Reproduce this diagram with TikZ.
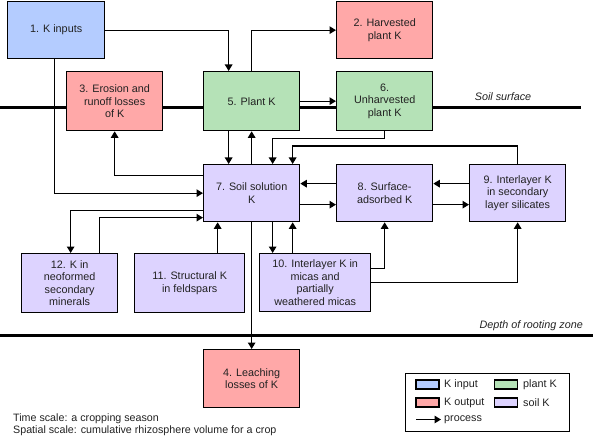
\documentclass[tikz,border=0pt]{standalone}
\usepackage{fontspec}
\setmainfont{Liberation Sans}
\usetikzlibrary{arrows.meta}
\definecolor{kblue}{RGB}{180,204,255}
\definecolor{kred}{RGB}{255,168,168}
\definecolor{kgreen}{RGB}{181,226,183}
\definecolor{kpurple}{RGB}{221,211,255}
\definecolor{ktext}{RGB}{34,34,34}
\begin{document}
\begin{tikzpicture}[x=1pt,y=-1pt,
  box/.style={draw=black, line width=1.3pt, align=center, inner sep=1pt,
    text=ktext, font=\fontsize{10.8}{12.6}\selectfont, anchor=north west},
  arr/.style={line width=1.2pt, -{Triangle[length=6.5pt,width=7.5pt]}},
  ground/.style={line width=3pt},
  lab/.style={font=\fontsize{10.8}{12.6}\selectfont\itshape, text=ktext, inner sep=0pt},
  sw/.style={draw=black, line width=1.2pt, minimum width=23pt, minimum height=9pt, inner sep=0pt},
  lt/.style={font=\fontsize{10.8}{12.6}\selectfont, text=ktext, inner sep=0pt, anchor=west},
  note/.style={font=\fontsize{10.7}{12}\selectfont, text=ktext, inner sep=0pt, anchor=base west}]
\useasboundingbox (0,0) rectangle (593,446);
\fill[white] (0,0) rectangle (593,446);

% ground lines
\draw[ground] (0,108) -- (581,108);
\draw[ground] (0,335) -- (593,335);
\node[lab] (soil) at (503,97) {Soil surface};
\node[lab, anchor=east] (depth) at (583,326) {Depth of rooting zone};

% boxes
\node[box, fill=kblue, minimum width=97pt, minimum height=57pt] (n1) at (7,1) {1. K inputs};
\node[box, fill=kred, minimum width=96pt, minimum height=57pt] (n2) at (336,1) {2. Harvested\\plant K};
\node[box, fill=kred, minimum width=96pt, minimum height=59pt] (n3) at (66,71) {3. Erosion and\\runoff losses\\of K};
\node[box, fill=kgreen, minimum width=96pt, minimum height=59pt] (n5) at (203,71) {5. Plant K};
\node[box, fill=kgreen, minimum width=96pt, minimum height=59pt] (n6) at (336,71) {6.\\Unharvested\\plant K};
\node[box, fill=kpurple, minimum width=96pt, minimum height=57pt] (n7) at (203,164) {7. Soil solution\\K};
\node[box, fill=kpurple, minimum width=96pt, minimum height=57pt] (n8) at (336,164) {8. Surface-\\adsorbed K};
\node[box, fill=kpurple, minimum width=96pt, minimum height=57pt] (n9) at (469,164) {9. Interlayer K\\in secondary\\layer silicates};
\node[box, fill=kpurple, minimum width=96pt, minimum height=59pt] (n12) at (21,253) {12. K in\\neoformed\\secondary\\minerals};
\node[box, fill=kpurple, minimum width=110pt, minimum height=59pt] (n11) at (134,253) {11. Structural K\\in feldspars};
\node[box, fill=kpurple, minimum width=111pt, minimum height=58pt] (n10) at (259,253) {10. Interlayer K in\\micas and\\partially\\weathered micas};
\node[box, fill=kred, minimum width=96pt, minimum height=58pt] (n4) at (203,349) {4. Leaching\\losses of K};

% connectors
\draw[arr] (n1.east) -| ([xshift=-23pt]n5.north);
\draw[arr] (n5.north) |- (n2.west);
\draw[arr] ([xshift=-1.5pt]n1.south) |- (n7.west);
\draw[arr] ([yshift=18pt]n7.west) -| (n3.south);
\draw[arr] ([xshift=-23pt]n5.south) -- ([xshift=-23pt]n7.north);
\draw[arr] (n7.north) -- (n5.south);
\draw[arr] (n5.east) -- (n6.west);
\draw[arr] (n6.south) -- ++(0,7) -| ([xshift=21pt]n7.north);
\draw[arr] (n9.north) -- ++(0,-18) -| ([xshift=41pt]n7.north);
\draw[arr] ([yshift=9.5pt]n8.west) -- ([yshift=9.5pt]n7.east);
\draw[arr] ([yshift=-11.5pt]n7.east) -- ([yshift=-11.5pt]n8.west);
\draw[arr] ([yshift=9.5pt]n9.west) -- ([yshift=9.5pt]n8.east);
\draw[arr] ([yshift=-11.5pt]n8.east) -- ([yshift=-11.5pt]n9.west);
\draw[arr] ([yshift=-17.5pt]n7.west) -| ([xshift=1pt]n12.north);
\draw[arr] ([xshift=30pt]n12.north) |- ([yshift=-24.5pt]n7.west);
\draw[arr] ([xshift=28pt]n11.north) -- ([xshift=-34pt]n7.south);
\draw[arr] ([xshift=21pt]n7.south) -- ([xshift=-42.5pt]n10.north);
\draw[arr] ([xshift=-22.5pt]n10.north) -- ([xshift=41pt]n7.south);
\draw[arr] ([yshift=14pt]n10.east) -| (n8.south);
\draw[arr] (n10.east) -| (n9.south);
\draw[arr] (n7.south) -- (n4.north);

% legend
\node[draw=black, line width=1.3pt, minimum width=164pt, minimum height=58pt, anchor=north west, inner sep=0pt] (leg) at (405,373) {};
\node[sw, fill=kblue] (s1) at (427.5,384.5) {};
\node[lt] (l1) at (444,384.5) {K input};
\node[sw, fill=kgreen] (s2) at (506,384.5) {};
\node[lt] (l2) at (523,384.5) {plant K};
\node[sw, fill=kred] (s3) at (427.5,402.5) {};
\node[lt] (l3) at (444,402.5) {K output};
\node[sw, fill=kpurple] (s4) at (506,402.5) {};
\node[lt] (l4) at (523,402.5) {soil K};
\coordinate (p1) at (416,419.5);
\coordinate (p2) at (441,419.5);
\draw[arr] (p1) -- (p2);
\node[lt] (l5) at (444,419.5) {process};

% notes
\node[note] (t1) at (13,421) {Time scale: a cropping season};
\node[note] (t2) at (13,433) {Spatial scale: cumulative rhizosphere volume for a crop};
\end{tikzpicture}
\end{document}
